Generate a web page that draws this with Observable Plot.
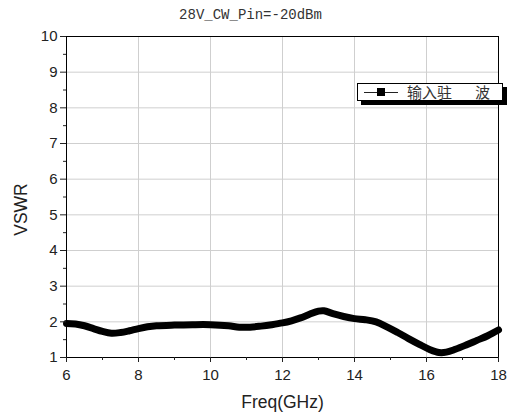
<!DOCTYPE html>
<html><head><meta charset="utf-8">
<script src="https://cdn.jsdelivr.net/npm/d3@7"></script>
<script src="https://cdn.jsdelivr.net/npm/@observablehq/plot@0.6"></script>
<style>
body{margin:0;background:#fff;}
#wrap{position:relative;width:512px;height:416px;}
#legend{position:absolute;left:357px;top:83px;width:146px;height:18px;box-sizing:border-box;border:1px solid #000;background:#fff;box-shadow:4px 4px 0 #000;font-family:"Noto Sans CJK SC";font-size:15px;color:#333;}
#legend .ln{position:absolute;left:6px;top:7.5px;width:34px;height:1.5px;background:#222;}
#legend .sq{position:absolute;left:19px;top:4px;width:8px;height:8px;background:#000;}
#legend .t{position:absolute;top:-2px;line-height:20px;white-space:nowrap;}
</style></head><body>
<div id="wrap"><div id="legend"><span class="ln"></span><span class="sq"></span><span class="t" id="lt1" style="left:49px"></span><span class="t" id="lt2" style="left:117px"></span></div></div>
<script>
const freq = [6.0, 6.25, 6.5, 6.75, 7.0, 7.25, 7.5, 7.75, 8.0, 8.25, 8.5, 9.0, 9.5, 10.0, 10.5, 10.8, 11.1, 11.4, 11.7, 12.0, 12.25, 12.5, 12.75, 13.0, 13.15, 13.4, 13.7, 14.0, 14.3, 14.6, 14.9, 15.2, 15.5, 15.8, 16.1, 16.35, 16.55, 16.8, 17.1, 17.4, 17.7, 18.0];
const vswr = [1.95, 1.94, 1.89, 1.81, 1.73, 1.68, 1.70, 1.75, 1.81, 1.86, 1.89, 1.91, 1.92, 1.92, 1.89, 1.85, 1.85, 1.88, 1.92, 1.97, 2.03, 2.11, 2.21, 2.30, 2.31, 2.23, 2.15, 2.09, 2.06, 2.00, 1.86, 1.70, 1.53, 1.37, 1.22, 1.14, 1.15, 1.23, 1.35, 1.48, 1.61, 1.77];
const title = "28V_CW_Pin=-20dBm";
const xLabel = "Freq(GHz)";
const yLabel = "VSWR";
const seriesName = ["输入驻", "波"];
const xTicks = [6, 8, 10, 12, 14, 16, 18];
const xMinor = [7, 9, 11, 13, 15, 17];
const yTicks = [1, 2, 3, 4, 5, 6, 7, 8, 9, 10];
const yMinor = [1.5, 2.5, 3.5, 4.5, 5.5, 6.5, 7.5, 8.5, 9.5];
const xGrid = [8, 10, 12, 14, 16];
const yGrid = [2, 3, 4, 5, 6, 7, 8, 9];

const data = freq.map((f, i) => ({f, v: vswr[i]}));
document.getElementById("lt1").textContent = seriesName[0];
document.getElementById("lt2").textContent = seriesName[1];

const chart = Plot.plot({
  width: 512, height: 416,
  marginLeft: 66, marginRight: 14, marginTop: 36, marginBottom: 59,
  x: {domain: [6, 18]},
  y: {domain: [1, 10]},
  style: {fontFamily: "Liberation Sans", fontSize: "15px", color: "#222", background: "#fff"},
  marks: [
    Plot.gridX(xGrid, {stroke: "#cfcfcf", strokeOpacity: 1}),
    Plot.gridY(yGrid, {stroke: "#cfcfcf", strokeOpacity: 1}),
    Plot.line(data, {x: "f", y: "v", curve: "catmull-rom", stroke: "#000", strokeWidth: 7}),
    Plot.frame({stroke: "#000"}),
    Plot.axisX(xTicks, {tickSize: 5, tickPadding: 7, label: null, fontSize: 15}),
    Plot.axisX(xMinor, {tickSize: 3, text: null, label: null}),
    Plot.axisY(yTicks, {tickSize: 6, tickPadding: 3, label: null, fontSize: 15}),
    Plot.axisY(yMinor, {tickSize: 3, text: null, label: null}),
    Plot.text([title], {text: d => d, frameAnchor: "top", lineAnchor: "middle", textAnchor: "middle", dx: -32, dy: -22, fontFamily: "Liberation Mono", fontSize: 14, fill: "#333"}),
    Plot.text([xLabel], {text: d => d, frameAnchor: "bottom", lineAnchor: "middle", textAnchor: "middle", dy: 45, fontSize: 17.5, fill: "#222"}),
    Plot.text([yLabel], {text: d => d, frameAnchor: "left", lineAnchor: "middle", textAnchor: "middle", dx: -45, dy: 12.5, rotate: -90, fontSize: 17.5, fill: "#222"})
  ]
});
document.getElementById("wrap").prepend(chart);
</script>
</body></html>
